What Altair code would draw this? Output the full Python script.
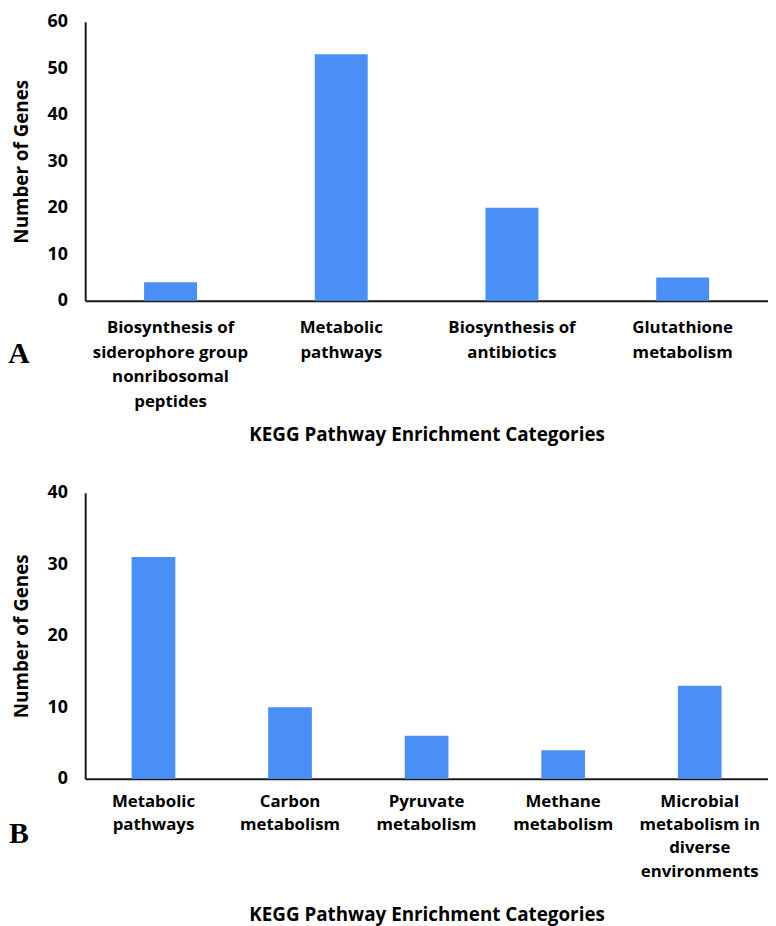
import altair as alt
import pandas as pd

# Panel A
cats_a = [
    "Biosynthesis of\nsiderophore group\nnonribosomal\npeptides",
    "Metabolic\npathways",
    "Biosynthesis of\nantibiotics",
    "Glutathione\nmetabolism",
]
genes_a = [4, 53, 20, 5]

# Panel B
cats_b = [
    "Metabolic\npathways",
    "Carbon\nmetabolism",
    "Pyruvate\nmetabolism",
    "Methane\nmetabolism",
    "Microbial\nmetabolism in\ndiverse\nenvironments",
]
genes_b = [31, 10, 6, 4, 13]

ticks_a = [0, 10, 20, 30, 40, 50, 60]
ticks_b = [0, 10, 20, 30, 40]

BAR = "#4A8EF7"
FONT = "Open Sans"
W = 690


def panel(cats, vals, ymax, yticks, letter, pad_inner, letter_y, lab_pad, lh, title_pad, h):
    df = pd.DataFrame({"cat": cats, "n": vals})
    bars = alt.Chart(df).mark_bar(color=BAR).encode(
        x=alt.X(
            "cat:N",
            sort=cats,
            scale=alt.Scale(paddingInner=pad_inner, paddingOuter=pad_inner / 2),
            axis=alt.Axis(
                title="KEGG Pathway Enrichment Categories",
                labelAngle=0,
                labelExpr="split(datum.label, '\\n')",
                labelLineHeight=lh,
                labelPadding=lab_pad,
                labelFontSize=17,
                titleFontSize=19,
                titlePadding=title_pad,
                ticks=False,
            ),
        ),
        y=alt.Y(
            "n:Q",
            scale=alt.Scale(domain=[0, ymax], nice=False),
            axis=alt.Axis(
                title="Number of Genes",
                values=yticks,
                ticks=False,
                grid=False,
                labelPadding=18,
                labelFontSize=18,
                titleFontSize=19,
                titlePadding=16,
            ),
        ),
    )
    lab = alt.Chart(pd.DataFrame({"t": [letter]})).mark_text(
        font="Liberation Serif", fontSize=30, fontWeight="bold", color="black",
        align="center", baseline="middle",
    ).encode(text="t:N", x=alt.value(-67), y=alt.value(letter_y))
    return alt.layer(bars, lab).properties(width=W, height=h)


chart_a = panel(cats_a, genes_a, 60, ticks_a, "A", 0.69, 336, 19, 25, 16, 282)
chart_b = panel(cats_b, genes_b, 40, ticks_b, "B", 0.68, 345, 15, 23.5, 27, 289)

chart = alt.vconcat(chart_a, chart_b, spacing=40).properties(
    padding={"left": 0, "top": 0, "right": 0, "bottom": 0}
).configure_view(stroke=None).configure_axis(
    labelFont=FONT,
    titleFont=FONT,
    labelFontWeight="bold",
    titleFontWeight="bold",
    labelColor="black",
    titleColor="black",
    domainColor="#1a1a1a",
    domainWidth=2,
    grid=False,
)

chart.save("out.html", embed_options={"renderer": "svg", "actions": False})
